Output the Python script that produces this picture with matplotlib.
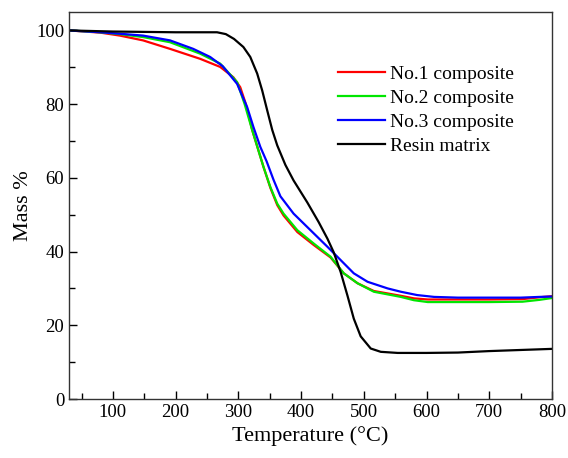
import matplotlib
matplotlib.use("Agg")
import matplotlib.pyplot as plt
from matplotlib.ticker import MultipleLocator

# temperature (°C) and mass (%)
t_no1 = [30, 80, 111, 148, 191, 239, 271, 292, 303, 312, 322, 340, 351, 362, 372, 394, 420, 447, 468, 490, 516, 559, 580, 602, 650, 700, 753, 780, 800]
m_no1 = [100, 99.4, 98.6, 97.3, 95.0, 92.3, 90.1, 87.3, 84.6, 80.0, 73.0, 63.0, 57.3, 52.6, 49.8, 45.3, 41.8, 38.4, 34.1, 31.4, 29.3, 28.0, 27.3, 27.0, 27.0, 27.0, 27.1, 27.6, 27.9]

t_no2 = [30, 80, 111, 148, 191, 239, 271, 298, 310, 322, 340, 351, 362, 372, 394, 420, 447, 468, 490, 516, 559, 580, 602, 650, 700, 753, 780, 800]
m_no2 = [100, 99.5, 99.0, 98.2, 96.8, 93.7, 91.0, 86.0, 80.0, 73.0, 63.0, 57.5, 53.0, 50.3, 45.8, 42.2, 38.6, 34.1, 31.4, 29.1, 27.7, 26.8, 26.3, 26.3, 26.3, 26.4, 26.9, 27.4]

t_no3 = [30, 80, 111, 148, 191, 228, 255, 275, 298, 314, 324, 335, 345, 356, 367, 388, 415, 442, 463, 484, 506, 538, 559, 585, 612, 650, 700, 750, 780, 800]
m_no3 = [100, 99.5, 99.1, 98.6, 97.3, 95.0, 92.8, 90.3, 85.5, 79.2, 73.8, 68.4, 64.5, 59.5, 55.0, 50.3, 45.8, 41.3, 37.7, 34.1, 31.8, 30.0, 29.1, 28.2, 27.7, 27.5, 27.5, 27.5, 27.7, 27.8]

t_resin = [30, 100, 200, 266, 280, 293, 308, 319, 330, 338, 346, 354, 362, 375, 388, 410, 428, 442, 452, 463, 474, 484, 495, 511, 527, 554, 600, 650, 700, 750, 800]
m_resin = [100, 99.7, 99.5, 99.5, 99.0, 97.7, 95.5, 92.8, 88.3, 83.7, 78.3, 73.0, 68.8, 63.5, 59.3, 53.3, 48.0, 43.5, 39.8, 34.5, 28.0, 21.8, 17.0, 13.7, 12.8, 12.5, 12.5, 12.6, 13.0, 13.3, 13.6]

series = [
    ("No.1 composite", t_no1, m_no1, "#ff0000"),
    ("No.2 composite", t_no2, m_no2, "#00e600"),
    ("No.3 composite", t_no3, m_no3, "#0000ff"),
    ("Resin matrix", t_resin, m_resin, "#000000"),
]

plt.rcParams["font.family"] = ["Liberation Serif", "DejaVu Serif"]

fig = plt.figure(figsize=(5.68, 4.58), dpi=100)
ax = fig.add_axes([69 / 568, 59 / 458, 483 / 568, 387 / 458])

for label, t, m, c in series:
    ax.plot(t, m, color=c, lw=1.6, label=label)

ax.set_xlim(30, 800)
ax.set_ylim(0, 105)
ax.xaxis.set_major_locator(MultipleLocator(100))
ax.xaxis.set_minor_locator(MultipleLocator(50))
ax.yaxis.set_major_locator(MultipleLocator(20))
ax.yaxis.set_minor_locator(MultipleLocator(10))
ax.tick_params(which="both", direction="in", labelsize=13.5, top=False, right=False)
ax.tick_params(which="major", length=6, width=1)
ax.tick_params(which="minor", length=4, width=1)
for s in ax.spines.values():
    s.set_linewidth(1.0)
    s.set_color("#333333")

ax.set_xlabel("Temperature (°C)", fontsize=16, labelpad=4)
ax.set_ylabel("Mass %", fontsize=16, labelpad=2)

ax.legend(loc="upper left", bbox_to_anchor=(0.557, 0.863), frameon=False,
          fontsize=14, handlelength=2.4, handletextpad=0.25,
          labelspacing=0.34, borderpad=0, borderaxespad=0)

plt.savefig("out.png", dpi=100)
